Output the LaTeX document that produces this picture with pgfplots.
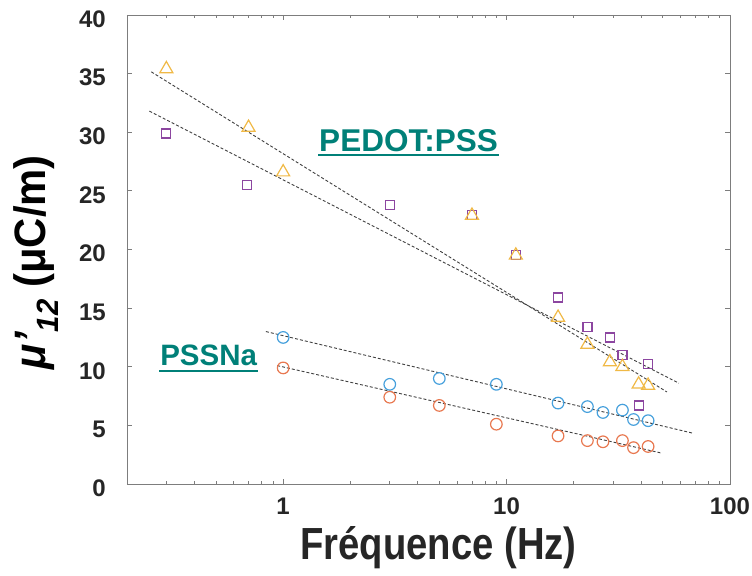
\documentclass[border=0pt]{standalone}
\usepackage{fontspec}
\setmainfont{Liberation Sans}
\usepackage{graphicx}
\usepackage{pgfplots}
\pgfplotsset{compat=1.18}

\definecolor{tri}{RGB}{240,185,70}
\definecolor{sqr}{RGB}{140,70,160}
\definecolor{bluec}{RGB}{70,160,220}
\definecolor{orc}{RGB}{232,120,80}
\definecolor{tealc}{RGB}{0,128,120}
\definecolor{axgray}{RGB}{125,125,125}
\definecolor{txt}{RGB}{38,38,38}

\begin{document}
\begin{tikzpicture}
\begin{axis}[name=ax,
  scale only axis, width=603pt, height=469pt,
  xmode=log, xmin=0.2, xmax=100, ymin=0, ymax=40,
  xtick={1,10,100}, xticklabels={1,10,100},
  minor xtick={0.2,0.3,0.4,0.5,0.6,0.7,0.8,0.9,2,3,4,5,6,7,8,9,20,30,40,50,60,70,80,90},
  ytick={0,5,...,40},
  xtick pos=both, ytick pos=both,
  xticklabel pos=lower, yticklabel pos=left,
  tick align=inside, major tick length=5pt, minor tick length=3pt,
  axis line style={axgray, line width=0.9pt},
  every tick/.style={axgray, line width=0.9pt},
  every minor tick/.style={axgray, line width=0.7pt},
  /pgf/number format/assume math mode=true,
  ticklabel style={font=\fontsize{24}{24}\selectfont\bfseries, text=txt, inner sep=0pt},
  xticklabel style={anchor=base, yshift=-31pt},
  yticklabel style={anchor=east, xshift=-21pt, yshift=-4pt},
  xlabel={\scalebox{0.85}[1]{Fréquence (Hz)}},
  xlabel style={font=\fontsize{45}{45}\selectfont\bfseries, text=txt,
    at={(axis description cs:0.5,0)}, anchor=base, xshift=10pt, yshift=-76pt},
  ylabel={\scalebox{0.95}[1]{{\itshape μ’\textsubscript{12}} (μC/m)}},
  ylabel style={font=\fontsize{44}{44}\selectfont\bfseries, text=black,
    at={(axis description cs:0,0.473)}, anchor=center, yshift=91pt},
]
% linear fits (dashed)
\addplot[no marks, black!75, line width=0.9pt, dash pattern=on 3pt off 2pt] coordinates {(0.257,35.15) (52.2,7.85)};
\addplot[no marks, black!75, line width=0.9pt, dash pattern=on 3pt off 2pt] coordinates {(0.252,31.8) (59,8.6)};
\addplot[no marks, black!75, line width=0.9pt, dash pattern=on 3pt off 2pt] coordinates {(0.837,13.0) (67.6,4.35)};
\addplot[no marks, black!75, line width=0.9pt, dash pattern=on 3pt off 2pt] coordinates {(0.94,10.1) (49,2.65)};
% PEDOT:PSS
\addplot[only marks, mark=square, mark size=4.5pt, mark options={draw=sqr, line width=1.2pt}] coordinates {
  (0.3,29.9) (0.69,25.5) (3,23.8) (7,22.95) (11,19.5) (17,15.9) (23,13.4) (29,12.5) (33,11.0) (43,10.2) (39,6.7)};
\addplot[only marks, mark=triangle, mark size=7.5pt, mark options={draw=tri, line width=1.2pt}] coordinates {
  (0.3,35.4) (0.7,30.4) (1,26.6) (7,22.9) (11,19.5) (17,14.2) (23,11.9) (29,10.4) (33,10.0) (39,8.5) (43,8.4)};
% PSSNa
\addplot[only marks, mark=o, mark size=5.8pt, mark options={draw=bluec, line width=1.2pt}] coordinates {
  (1,12.5) (3,8.5) (5,9.0) (9,8.5) (17,6.9) (23,6.6) (27,6.1) (33,6.3) (37,5.5) (43,5.4)};
\addplot[only marks, mark=o, mark size=5.8pt, mark options={draw=orc, line width=1.2pt}] coordinates {
  (1,9.9) (3,7.4) (5,6.7) (9,5.1) (17,4.1) (23,3.7) (27,3.6) (33,3.7) (37,3.1) (43,3.2)};

\node[anchor=base, inner sep=1pt, text=tealc, font=\fontsize{31.5}{31.5}\selectfont\bfseries] (p1) at (axis cs:3.64,28.4) {PEDOT:PSS};
\draw[tealc, line width=2.2pt] ([yshift=-4pt]p1.base west) -- ([yshift=-4pt]p1.base east);
\node[anchor=base, inner sep=1pt, text=tealc, font=\fontsize{29.5}{29.5}\selectfont\bfseries] (p2) at (axis cs:0.464,10.07) {PSSNa};
\draw[tealc, line width=2.2pt] ([yshift=-5pt]p2.base west) -- ([yshift=-5pt]p2.base east);
\end{axis}
\pgfresetboundingbox
\path[use as bounding box] ([shift={(-127pt,-92pt)}]ax.south west) rectangle ([shift={(22pt,15pt)}]ax.north east);
\end{tikzpicture}
\end{document}
